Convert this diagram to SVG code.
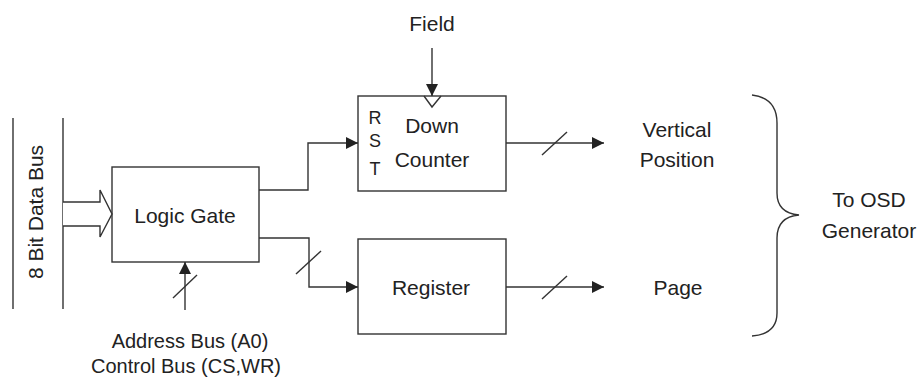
<svg xmlns="http://www.w3.org/2000/svg" width="923" height="390" viewBox="0 0 923 390">
<defs>
<style>
.ln{fill:none;stroke:#333;stroke-width:1.4}
.bx{fill:#fff;stroke:#333;stroke-width:1.4}
.t{font-family:"Liberation Sans",Arial,sans-serif;font-size:21px;fill:#222;text-anchor:middle}
.s{font-family:"Liberation Sans",Arial,sans-serif;font-size:18px;fill:#222;text-anchor:middle}
</style>
<marker id="ah" viewBox="0 0 12 12" refX="12" refY="6" markerWidth="12" markerHeight="12" markerUnits="userSpaceOnUse" orient="auto">
<path d="M0,0 L12,6 L0,12 Z" fill="#222"/>
</marker>
</defs>
<rect width="923" height="390" fill="#fff"/>

<g id="databus">
<line class="ln" x1="13" y1="118" x2="13" y2="309"/>
<line class="ln" x1="63" y1="118" x2="63" y2="309"/>
<text class="t" transform="translate(43,212) rotate(-90)" x="0" y="0">8 Bit Data Bus</text>
</g>

<g id="logicgate">
<rect class="bx" x="112" y="167" width="147" height="95"/>
<text class="t" x="185" y="223">Logic Gate</text>
</g>

<g id="downcounter">
<rect class="bx" x="358" y="96" width="148" height="95"/>
<path class="ln" d="M424,96 L432,107 L441,96"/>
<text class="s" x="375" y="124">R</text>
<text class="s" x="375" y="147">S</text>
<text class="s" x="375" y="175">T</text>
<text class="t" x="432" y="133">Down</text>
<text class="t" x="432" y="167">Counter</text>
</g>

<g id="register">
<rect class="bx" x="358" y="239" width="148" height="95"/>
<text class="t" x="431" y="295">Register</text>
</g>

<g id="labels">
<text class="t" x="432" y="31">Field</text>
<text class="t" x="677" y="137">Vertical</text>
<text class="t" x="677" y="167">Position</text>
<text class="t" x="678" y="295">Page</text>
<text class="t" x="869" y="207">To OSD</text>
<text class="t" x="869" y="238">Generator</text>
<text class="t" x="190" y="348" style="font-size:20px">Address Bus (A0)</text>
<text class="t" x="186" y="373" style="font-size:20px">Control Bus (CS,WR)</text>
</g>

<g id="connectors">
<path class="bx" d="M63,202 L100,202 L100,190 L112,214 L100,237 L100,226 L63,226"/>
<path class="ln" d="M259,190 L308,190 L308,143 L358,143" marker-end="url(#ah)"/>
<path class="ln" d="M259,238 L309,238 L309,287 L358,287" marker-end="url(#ah)"/>
<line class="ln" x1="296" y1="274" x2="321" y2="251"/>
<line class="ln" x1="432" y1="48" x2="432" y2="96" marker-end="url(#ah)"/>
<line class="ln" x1="185" y1="310" x2="185" y2="262" marker-end="url(#ah)"/>
<line class="ln" x1="173" y1="298" x2="197" y2="275"/>
<line class="ln" x1="506" y1="143" x2="604" y2="143" marker-end="url(#ah)"/>
<line class="ln" x1="542" y1="155" x2="567" y2="132"/>
<line class="ln" x1="506" y1="287" x2="604" y2="287" marker-end="url(#ah)"/>
<line class="ln" x1="542" y1="299" x2="567" y2="276"/>
<path class="ln" d="M752,95 Q777,98 777,123 L777,193 Q777,213 799,215 Q777,217 777,238 L777,313 Q777,334 752,336"/>
</g>
</svg>
